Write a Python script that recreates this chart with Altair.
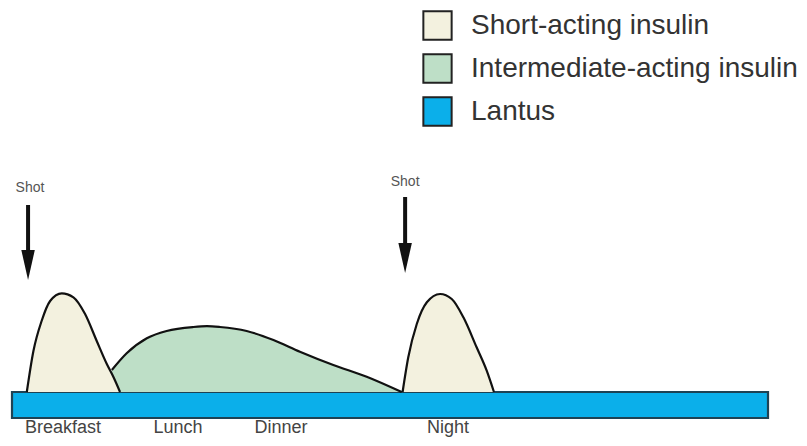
import altair as alt
import pandas as pd

# ---- data (time in hours from breakfast shot, relative insulin level) ----
types = ["Short-acting insulin", "Intermediate-acting insulin", "Lantus"]
colors = ["#F3F1DF", "#BEDFC7", "#0BAFEA"]

short1_t = [0.47, 0.68, 0.94, 1.21, 1.58, 1.95, 2.32, 2.69, 3.01, 3.22, 3.43]
short1_v = [0.0, 4.1, 7.1, 9.1, 9.87, 9.47, 7.8, 5.1, 2.8, 1.5, 0.0]
short2_t = [12.40, 12.58, 12.85, 13.17, 13.59, 13.96, 14.33, 14.75, 15.07, 15.30]
short2_v = [0.0, 3.47, 6.8, 8.97, 9.8, 9.3, 7.47, 4.47, 2.13, 0.0]
inter_t = [3.17, 3.64, 4.28, 4.91, 5.76, 6.19, 6.60, 7.45, 8.30, 9.14, 10.2, 11.26, 12.37]
inter_v = [2.2, 3.87, 5.37, 6.1, 6.5, 6.58, 6.5, 6.1, 5.2, 4.03, 2.7, 1.53, 0.0]
lantus_start, lantus_end = [0.0], [24.0]
lantus_top, lantus_bottom = [0.0], [-2.6]

shot_t = [0.51, 12.48]
shot_top = [18.7, 19.5]
shot_tip = [11.2, 11.9]
shot_label = ["Shot", "Shot"]
shot_label_t = [0.57, 12.48]
shot_label_v = [20.4, 21.0]

meal_labels = ["Breakfast", "Lunch", "Dinner", "Night"]
meal_t = [1.62, 5.27, 8.54, 13.84]
meal_v = [-3.55, -3.55, -3.55, -3.55]

# ---- tables ----
short_df = pd.DataFrame({
    "t": short1_t + short2_t,
    "v": short1_v + short2_v,
    "peak": ["am"] * len(short1_t) + ["pm"] * len(short2_t),
    "type": types[0],
})
inter_df = pd.DataFrame({"t": inter_t, "v": inter_v, "type": types[1]})
lantus_df = pd.DataFrame({"t": lantus_start, "t2": lantus_end,
                          "v": lantus_top, "v2": lantus_bottom, "type": types[2]})
shot_df = pd.DataFrame({"t": shot_t, "top": shot_top, "tip": shot_tip})
shot_lbl_df = pd.DataFrame({"t": shot_label_t, "v": shot_label_v, "label": shot_label})
meal_df = pd.DataFrame({"t": meal_t, "v": meal_v, "label": meal_labels})

xs = alt.Scale(domain=[-0.127, 24.984], nice=False, zero=False)
ys = alt.Scale(domain=[-4.6, 38.4], nice=False, zero=False)
cs = alt.Scale(domain=types, range=colors)

legend = alt.Legend(
    title=None, orient="none", legendX=414, legendY=2,
    symbolType="square", symbolSize=800, symbolStrokeColor="#222",
    symbolStrokeWidth=2, symbolOpacity=1, labelFontSize=28,
    labelFont="Liberation Sans", labelColor="#333", labelOffset=18,
    rowPadding=6, labelLimit=500, padding=0,
)

X = lambda f="t": alt.X(f"{f}:Q", scale=xs, axis=None)
Y = lambda f="v": alt.Y(f"{f}:Q", scale=ys, axis=None)
C = alt.Color("type:N", scale=cs, legend=legend)

lantus = alt.Chart(lantus_df).mark_rect(
    stroke="#1E4254", strokeWidth=2.2, opacity=1
).encode(x=X(), x2="t2:Q", y=Y(), y2="v2:Q", color=C)

inter_area = alt.Chart(inter_df).mark_area(
    interpolate="monotone", opacity=1
).encode(x=X(), y=Y(), y2=alt.datum(0), color=C)
inter_line = alt.Chart(inter_df).mark_line(
    interpolate="monotone", color="#111", strokeWidth=2.2
).encode(x=X(), y=Y())

short_area = alt.Chart(short_df).mark_area(
    interpolate="monotone", opacity=1
).encode(x=X(), y=Y(), y2=alt.datum(0), color=C, detail="peak:N")
short_line = alt.Chart(short_df).mark_line(
    interpolate="monotone", color="#111", strokeWidth=2.2
).encode(x=X(), y=Y(), detail="peak:N")

shaft = alt.Chart(shot_df).mark_rule(
    color="#111", strokeWidth=4, y2Offset=-14
).encode(x=X(), y=Y("top"), y2="tip:Q")
head = alt.Chart(shot_df).mark_point(
    shape="M -0.45 -1 L 0.45 -1 L 0 1 Z", size=900, filled=True,
    color="#111", opacity=1, yOffset=-15
).encode(x=X(), y=Y("tip"))

shot_text = alt.Chart(shot_lbl_df).mark_text(
    font="Liberation Sans", fontSize=14, color="#555", baseline="middle"
).encode(x=X(), y=Y(), text="label:N")

meal_text = alt.Chart(meal_df).mark_text(
    font="Liberation Sans", fontSize=18, color="#444", baseline="middle"
).encode(x=X(), y=Y(), text="label:N")

chart = alt.layer(
    lantus, inter_area, inter_line, short_area, short_line,
    shaft, head, shot_text, meal_text
).properties(
    width=791, height=430, padding=0,
    autosize=alt.AutoSizeParams(type="none"),
).configure_view(stroke=None)

chart.save("out.html", embed_options={"renderer": "svg", "actions": False})
